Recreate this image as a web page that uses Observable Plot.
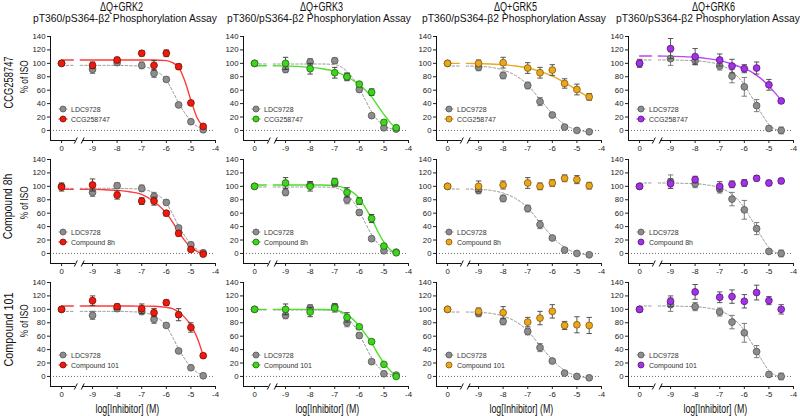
<!DOCTYPE html>
<html><head><meta charset="utf-8">
<script src="https://cdn.jsdelivr.net/npm/d3@7"></script>
<script src="https://cdn.jsdelivr.net/npm/@observablehq/plot@0.6"></script>
<style>
html,body{margin:0;padding:0;background:#fff;}
#root{position:relative;width:800px;height:416px;overflow:hidden;font-family:"Liberation Sans",Arial,sans-serif;color:#111;}
.abs{position:absolute;white-space:nowrap;line-height:1;}
.panel{position:absolute;}
.leg{position:absolute;display:flex;align-items:center;height:10px;font-size:7px;color:#333;white-space:nowrap;}
.leg svg{display:block;margin-right:2px;}
</style></head>
<body><div id="root"></div>
<script>
// ---------- axis / tick values ----------
const CTRL_X = -10.26, X_MIN = -10.71, X_MAX = -4;
const Y_MIN = -15, Y_MAX = 140;
const AXIS_BREAK = [-9.69, -9.41];
const CURVE_BREAK = -9.78;
const doseX = [CTRL_X, -9, -8, -7, -6.5, -6, -5.5, -5, -4.5];
const curveX = [-9.5, -9, -8.5, -8, -7.5, -7, -6.5, -6, -5.75, -5.5, -5.25, -5, -4.75, -4.5];
const xTickPos = [CTRL_X, -9, -8, -7, -6, -5, -4];
const xTickLabels = ["0", "-9", "-8", "-7", "-6", "-5", "-4"];
const yTicks = [0, 20, 40, 60, 80, 100, 120, 140];

// ---------- text ----------
const columnTitles = ["ΔQ+GRK2", "ΔQ+GRK3", "ΔQ+GRK5", "ΔQ+GRK6"];
const assayTitle = "pT360/pS364-β2 Phosphorylation Assay";
const rowTitles = ["CCG258747", "Compound 8h", "Compound 101"];
const yTitle = "% of ISO";
const xTitle = "log[Inhibitor] (M)";
const refName = "LDC9728";

// ---------- LDC9728 (reference), one per column ----------
const ldcGRK2 = [100, 91, 101, 97, 85, 76, 38, 13, 1];
const ldcGRK2Sem = [3, 6, 4, 5, 6, 3, 2, 2, 2];
const ldcGRK2Fit = [97, 97, 97, 97, 96.5, 95.5, 90, 75, 59, 41, 26, 14, 6, 2];
const ldcGRK3 = [100, 91, 102, 104, 80, 61, 22, 4, 2];
const ldcGRK3Sem = [3, 5, 5, 4, 6, 4, 3, 2, 2];
const ldcGRK3Fit = [99, 99, 99, 99, 99, 98, 88, 63, 45, 28, 15, 7, 3, 1];
const ldcGRK5 = [100, 94, 82, 67, 43, 23, 5, 0, -2];
const ldcGRK5Sem = [2, 5, 5, 5, 6, 2, 2, 2, 2];
const ldcGRK5Fit = [96, 95.5, 94, 90, 82, 68, 46, 25, 16, 9, 4, 1, -1, -2];
const ldcGRK6 = [100, 107, 104, 96, 81, 65, 37, 3, 0];
const ldcGRK6Sem = [4, 10, 6, 6, 10, 14, 9, 2, 5];
const ldcGRK6Fit = [105, 105, 104.5, 104, 102, 98, 88, 68, 53, 38, 22, 9, 2, -1];

// ---------- CCG258747 ----------
const ccgGRK2 = [100, 97, 105, 115, 97, 115, 95, 41, 6];
const ccgGRK2Sem = [3, 5, 4, 4, 7, 5, 4, 2, 2];
const ccgGRK2Fit = [105, 105, 105, 105, 105, 105, 105, 104, 101, 94, 74, 45, 19, 6];
const ccgGRK3 = [100, 100, 92, 86, 80, 69, 57, 12, 4];
const ccgGRK3Sem = [3, 9, 8, 8, 5, 4, 5, 3, 2];
const ccgGRK3Fit = [96.5, 96, 95.5, 94, 92, 88, 80, 68, 60, 50, 37, 24, 12, 3];
const ccgGRK5 = [100, 100, 101, 93, 86, 90, 70, 61, 50];
const ccgGRK5Sem = [2, 5, 8, 8, 8, 8, 7, 8, 5];
const ccgGRK5Fit = [100, 99.5, 99, 98, 96, 93, 88, 81, 76.5, 71, 66, 60, 54.5, 49];
const ccgGRK6 = [100, 122, 110, 105, 96, 92, 93, 68, 44];
const ccgGRK6Sem = [6, 15, 12, 9, 10, 6, 9, 8, 3];
const ccgGRK6Fit = [111, 110.5, 110, 109, 107, 104, 99, 92, 88, 82, 75, 66, 56, 45];

// ---------- Compound 8h ----------
const c8hGRK2 = [99, 102, 87, 78, 78, 60, 30, 6, -1];
const c8hGRK2Sem = [6, 9, 6, 5, 6, 4, 4, 2, 2];
const c8hGRK2Fit = [95.5, 95.5, 95, 94, 92, 88, 77, 60, 47, 32, 19, 9, 3, -1];
const c8hGRK3 = [100, 105, 100, 107, 91, 78, 52, 11, 1];
const c8hGRK3Sem = [3, 8, 7, 5, 7, 5, 6, 3, 2];
const c8hGRK3Fit = [102, 102, 102, 102, 102, 101, 96, 82, 68, 52, 33, 17, 6, 0];
const c8hGRK5 = [100, 100, 102, 105, 100, 105, 112, 110, 101];
const c8hGRK5Sem = [2, 8, 6, 8, 5, 5, 5, 6, 5];
const c8hGRK6 = [100, 104, 110, 100, 103, 105, 112, 105, 108];
const c8hGRK6Sem = [0, 7, 5, 7, 5, 5, 4, 4, 4];

// ---------- Compound 101 ----------
const c101GRK2 = [100, 113, 104, 101, 95, 110, 92, 73, 31];
const c101GRK2Sem = [3, 7, 4, 7, 6, 4, 9, 7, 2];
const c101GRK2Fit = [105, 105, 105, 105, 105, 104.8, 104.5, 103, 101, 96, 88, 76, 58, 31];
const c101GRK3 = [100, 100, 96, 102, 88, 74, 52, 18, 0];
const c101GRK3Sem = [3, 8, 7, 6, 7, 3, 3, 2, 2];
const c101GRK3Fit = [100, 100, 100, 100, 99.8, 99, 92, 75, 63, 50, 34, 20, 9, 0];
const c101GRK5 = [100, 97, 95, 81, 87, 97, 76, 77, 76];
const c101GRK5Sem = [2, 5, 9, 7, 10, 10, 6, 12, 12];
const c101GRK6 = [100, 112, 126, 118, 119, 112, 125, 113, 100];
const c101GRK6Sem = [0, 8, 11, 8, 10, 10, 11, 6, 7];

// ---------- styles ----------
const refStyle = {fill: "#8d8d8d", stroke: "#555", line: "#9a9a9a", lw: 1, dash: "2.5,2", err: "#6e6e6e"};
const colStyles = [
  {fill: "#ee1a0e", stroke: "#7c0c06", line: "#ff3b3b", lw: 1.4, dash: null, err: "#333"},
  {fill: "#3fd41f", stroke: "#1f6a0f", line: "#4ee02a", lw: 1.4, dash: null, err: "#333"},
  {fill: "#eaa61c", stroke: "#80590c", line: "#e9aa22", lw: 1.4, dash: null, err: "#444"},
  {fill: "#a431e6", stroke: "#55177a", line: "#b945f5", lw: 1.4, dash: null, err: "#444"}
];

const refData = [
  {mean: ldcGRK2, sem: ldcGRK2Sem, fit: ldcGRK2Fit},
  {mean: ldcGRK3, sem: ldcGRK3Sem, fit: ldcGRK3Fit},
  {mean: ldcGRK5, sem: ldcGRK5Sem, fit: ldcGRK5Fit},
  {mean: ldcGRK6, sem: ldcGRK6Sem, fit: ldcGRK6Fit}
];
const panels = [
  {row: 0, col: 0, mean: ccgGRK2, sem: ccgGRK2Sem, fit: ccgGRK2Fit},
  {row: 0, col: 1, mean: ccgGRK3, sem: ccgGRK3Sem, fit: ccgGRK3Fit},
  {row: 0, col: 2, mean: ccgGRK5, sem: ccgGRK5Sem, fit: ccgGRK5Fit},
  {row: 0, col: 3, mean: ccgGRK6, sem: ccgGRK6Sem, fit: ccgGRK6Fit},
  {row: 1, col: 0, mean: c8hGRK2, sem: c8hGRK2Sem, fit: c8hGRK2Fit},
  {row: 1, col: 1, mean: c8hGRK3, sem: c8hGRK3Sem, fit: c8hGRK3Fit},
  {row: 1, col: 2, mean: c8hGRK5, sem: c8hGRK5Sem, fit: null},
  {row: 1, col: 3, mean: c8hGRK6, sem: c8hGRK6Sem, fit: null},
  {row: 2, col: 0, mean: c101GRK2, sem: c101GRK2Sem, fit: c101GRK2Fit},
  {row: 2, col: 1, mean: c101GRK3, sem: c101GRK3Sem, fit: c101GRK3Fit},
  {row: 2, col: 2, mean: c101GRK5, sem: c101GRK5Sem, fit: null},
  {row: 2, col: 3, mean: c101GRK6, sem: c101GRK6Sem, fit: null}
];

// ---------- layout ----------
const root = document.getElementById("root");
const colX0 = [50, 243, 436, 628];
const rowTop = [30, 153, 276];
const W = 200, H = 130, ML = 30, MR = 5, MT = 6, MB = 20;
const CAP = 0.11;

const pts = (mean, sem) => doseX.map((x, i) => ({x, y: mean[i], e: sem[i]}));
const fitPts = (fit) => curveX.map((x, i) => ({x, y: fit[i]}));

function curveMarks(fit, st) {
  const opts = {x: "x", y: "y", stroke: st.line, strokeWidth: st.lw, strokeDasharray: st.dash || undefined};
  return [
    Plot.line([{x: CTRL_X, y: fit[0]}, {x: CURVE_BREAK, y: fit[0]}], opts),
    Plot.line(fitPts(fit), {...opts, curve: "monotone-x"})
  ];
}
function pointMarks(data, st) {
  const withErr = data.filter(d => d.e > 0);
  return [
    Plot.link(withErr, {x1: "x", x2: "x", y1: d => d.y - d.e, y2: d => d.y + d.e, stroke: st.err, strokeWidth: 0.9}),
    Plot.link(withErr, {x1: d => d.x - CAP, x2: d => d.x + CAP, y1: d => d.y + d.e, y2: d => d.y + d.e, stroke: st.err, strokeWidth: 0.9}),
    Plot.link(withErr, {x1: d => d.x - CAP, x2: d => d.x + CAP, y1: d => d.y - d.e, y2: d => d.y - d.e, stroke: st.err, strokeWidth: 0.9}),
    Plot.dot(data, {x: "x", y: "y", r: 3.4, fill: st.fill, stroke: st.stroke, strokeWidth: 0.8})
  ];
}

const axisSegs = [{x1: X_MIN, x2: AXIS_BREAK[0]}, {x1: AXIS_BREAK[1], x2: X_MAX}];
const breakMarks = AXIS_BREAK.map(b => ({x1: b - 0.05, y1: Y_MIN - 4.5, x2: b + 0.07, y2: Y_MIN + 4.5}));

function makePanel(p) {
  const ref = refData[p.col], st = colStyles[p.col];
  const marks = [
    Plot.ruleY([0], {x1: X_MIN, x2: X_MAX, stroke: "#444", strokeWidth: 0.8, strokeDasharray: "1,2"}),
    Plot.ruleX([X_MIN], {y1: Y_MIN, y2: Y_MAX, stroke: "#111", strokeWidth: 1}),
    Plot.ruleY(axisSegs, {y: Y_MIN, x1: "x1", x2: "x2", stroke: "#111", strokeWidth: 1}),
    Plot.link(breakMarks, {x1: "x1", y1: "y1", x2: "x2", y2: "y2", stroke: "#111", strokeWidth: 1}),
    Plot.axisY({ticks: yTicks, tickSize: 3, tickPadding: 2, fontSize: 7.8}),
    Plot.axisX({ticks: xTickPos, tickFormat: d => xTickLabels[xTickPos.indexOf(d)], tickSize: 3, tickPadding: 2, fontSize: 7.8}),
    ...curveMarks(ref.fit, refStyle),
    ...(p.fit ? curveMarks(p.fit, st) : []),
    ...pointMarks(pts(ref.mean, ref.sem), refStyle),
    ...pointMarks(pts(p.mean, p.sem), st)
  ];
  const svg = Plot.plot({
    width: W, height: H, marginLeft: ML, marginRight: MR, marginTop: MT, marginBottom: MB,
    x: {domain: [X_MIN, X_MAX]},
    y: {domain: [Y_MIN, Y_MAX]},
    style: {background: "transparent", overflow: "visible", fontFamily: "'Liberation Sans', Arial, sans-serif", color: "#222"},
    marks
  });
  const wrap = document.createElement("div");
  wrap.className = "panel";
  wrap.style.left = (colX0[p.col] - ML) + "px";
  wrap.style.top = rowTop[p.row] + "px";
  wrap.appendChild(svg);
  root.appendChild(wrap);

  // legend
  const yPix = v => rowTop[p.row] + MT + (Y_MAX - v) / (Y_MAX - Y_MIN) * (H - MT - MB);
  legendEntry(colX0[p.col] + 7, yPix(31), refStyle, refName, true);
  legendEntry(colX0[p.col] + 7, yPix(16), st, rowTitles[p.row], !!p.fit);
}

function legendEntry(x, y, st, name, withLine) {
  const d = document.createElement("div");
  d.className = "leg";
  d.style.left = x + "px";
  d.style.top = (y - 5) + "px";
  const ns = "http://www.w3.org/2000/svg";
  const s = document.createElementNS(ns, "svg");
  s.setAttribute("width", 12); s.setAttribute("height", 10);
  if (withLine) {
    const l = document.createElementNS(ns, "line");
    l.setAttribute("x1", 1.5); l.setAttribute("x2", 10.5); l.setAttribute("y1", 5); l.setAttribute("y2", 5);
    l.setAttribute("stroke", st.line); l.setAttribute("stroke-width", st.lw);
    if (st.dash) l.setAttribute("stroke-dasharray", "2,1.5");
    s.appendChild(l);
  }
  const c = document.createElementNS(ns, "circle");
  c.setAttribute("cx", 6); c.setAttribute("cy", 5); c.setAttribute("r", 3);
  c.setAttribute("fill", st.fill); c.setAttribute("stroke", st.stroke); c.setAttribute("stroke-width", 0.8);
  s.appendChild(c);
  d.appendChild(s);
  const t = document.createElement("span");
  t.textContent = name;
  d.appendChild(t);
  root.appendChild(d);
}

function label(text, cx, cy, size, width, rotate) {
  const el = document.createElement("div");
  el.className = "abs";
  el.textContent = text;
  el.style.fontSize = size + "px";
  root.appendChild(el);
  const w = el.offsetWidth, h = el.offsetHeight;
  const sx = width ? width / w : 1;
  el.style.left = (cx - w / 2) + "px";
  el.style.top = (cy - h / 2) + "px";
  el.style.transformOrigin = "50% 50%";
  el.style.transform = (rotate ? "rotate(-90deg) " : "") + "scaleX(" + sx + ")";
}

panels.forEach(makePanel);

const titleCx = [121, 321, 515, 713];
const subCx = [125, 319, 514, 708];
columnTitles.forEach((t, i) => {
  label(t, titleCx[i], 7, 12, 43, false);
  label(assayTitle, subCx[i], 19, 10.2, 184, false);
});
const rowCy = [82, 206, 329];
const rowW = [52, 66, 74];
const isoCy = [77, 203, 321];
rowTitles.forEach((t, i) => {
  label(t, 8, rowCy[i], 13, rowW[i], true);
  label(yTitle, 25, isoCy[i], 11.5, 33, true);
});
const xTitleCx = [127, 327, 521, 715];
xTitleCx.forEach(cx => label(xTitle, cx, 409, 12, 64, false));
</script>
</body></html>
